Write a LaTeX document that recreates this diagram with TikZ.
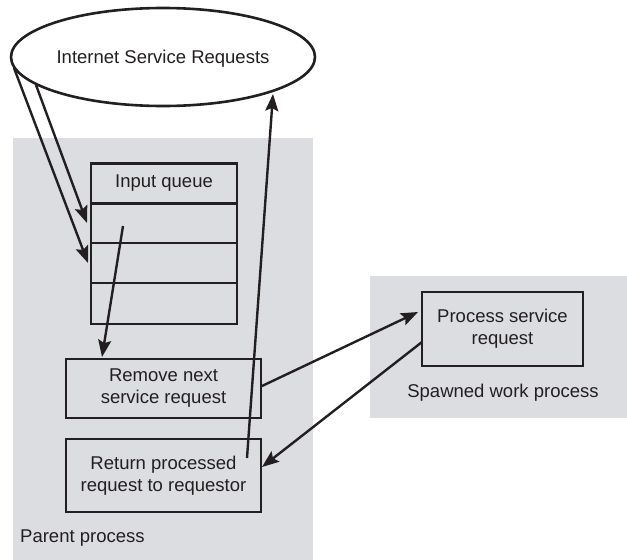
\documentclass[tikz,border=0pt]{standalone}
\usepackage{fontspec}
\setmainfont{Liberation Sans}
\usetikzlibrary{shapes.geometric,arrows.meta}
\definecolor{panel}{RGB}{220,221,224}
\definecolor{ink}{RGB}{35,31,32}
\tikzset{
  box/.style={draw=ink, line width=2.6pt, rectangle, inner sep=0pt, align=center, font=\fontsize{18.5}{22}\selectfont, text=ink},
  conn/.style={draw=ink, line width=2.4pt, -{Stealth[length=17pt,width=13pt,inset=3pt]}},
  lbl/.style={font=\fontsize{18.5}{22}\selectfont, text=ink, inner sep=0pt},
}
\begin{document}
\begin{tikzpicture}[x=1pt,y=-1pt]
\useasboundingbox (0,0) rectangle (627,560);
% panels
\fill[panel] (13,138) rectangle (313,560);
\fill[panel] (370,276) rectangle (627,418);
% ellipse
\node[ellipse, draw=ink, fill=white, line width=2.6pt, minimum width=304pt, minimum height=98pt, inner sep=0pt] (isr) at (163,57) {};
\node[lbl] (isrt) at (163,59) {Internet Service Requests};
% queue
\node[box, minimum width=146pt, minimum height=39.5pt] (q0) at (164,183.5) {Input queue};
\node[box, minimum width=146pt, minimum height=40pt] (q1) at (164,223) {};
\node[box, minimum width=146pt, minimum height=40pt] (q2) at (164,263) {};
\node[box, minimum width=146pt, minimum height=41pt] (q3) at (164,303.5) {};
% boxes
\node[box, minimum width=195pt, minimum height=59pt, fill=panel] (rem) at (163.5,388.5) {Remove next\\service request};
\node[box, minimum width=195pt, minimum height=73pt, fill=panel] (ret) at (163.5,475.5) {Return processed\\request to requestor};
\node[box, minimum width=161pt, minimum height=74pt, fill=panel] (proc) at (502.5,329) {Process service\\request};
% labels
\node[lbl, anchor=west] (pp) at (20,538) {Parent process};
\node[lbl] (sw) at (503,393) {Spawned work process};
% connector coordinates
\coordinate (a1s) at (14,68);
\coordinate (a1e) at (88,263);
\coordinate (a2s) at (36,85);
\coordinate (a2e) at (87,223);
\coordinate (a3s) at (123,226);
\coordinate (a3e) at (102,357);
\coordinate (a4s) at (247,458);
\coordinate (a4e) at (273,94);
\coordinate (a5s) at (262,386);
\coordinate (a5e) at (418,312);
\coordinate (a6s) at (422,342);
\coordinate (a6e) at (262,467);
\draw[conn] (a1s) -- (a1e);
\draw[conn] (a2s) -- (a2e);
\draw[conn] (a3s) -- (a3e);
\draw[conn] (a4s) -- (a4e);
\draw[conn] (a5s) -- (a5e);
\draw[conn] (a6s) -- (a6e);
\end{tikzpicture}
\end{document}
